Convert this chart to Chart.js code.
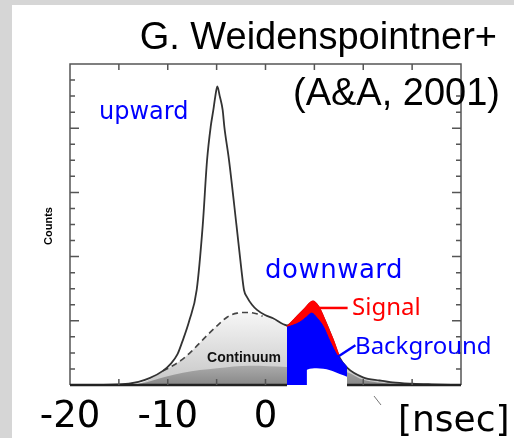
<!DOCTYPE html>
<html>
<head>
<meta charset="utf-8">
<script src="https://cdn.jsdelivr.net/npm/chart.js@4.4.1/dist/chart.umd.min.js"></script>
<style>
  body { margin: 0; background: #d6d6d6; }
  #chart { display: block; }
</style>
</head>
<body>
<canvas id="chart" width="514" height="438"></canvas>
<script>
// time axis in ns, counts in arbitrary units (frame goes 0..5)
const totalX = [-20, -15, -13, -11.8, -10.5, -9.7, -9, -8.5, -7.8, -7.04, -6.42, -5.98, -5.61, -5.34, -5.15, -4.93, -4.68, -4.38, -4.21, -3.73, -2.97, -2.46, -2.2, -1.89, -1.38, -0.87, -0.05, 0.77, 2.2, 3.22, 4.0, 4.86, 5.4, 5.88, 6.9, 7.52, 8.34, 9.97, 11.7, 13, 15, 17, 20];
const totalY = [0, 0.01, 0.05, 0.11, 0.22, 0.33, 0.48, 0.68, 1.0, 1.48, 2.49, 3.5, 4.02, 4.28, 4.48, 4.65, 4.5, 4.28, 4.02, 3.5, 2.49, 1.79, 1.48, 1.37, 1.25, 1.17, 1.09, 1.04, 0.93, 1.06, 1.18, 1.30, 1.22, 1.07, 0.70, 0.44, 0.27, 0.12, 0.07, 0.04, 0.02, 0.01, 0];

const dashX = [-10.5, -9.5, -8.5, -7.6, -6.7, -5.8, -4.9, -3.9, -2.9, -1.9, -0.9, -0.3];
const dashY = [0.22, 0.30, 0.40, 0.52, 0.66, 0.80, 0.93, 1.06, 1.12, 1.13, 1.11, 1.07];

const lightX = [-13, -11.8, -10.5, -9.5, -8.5, -7.6, -6.7, -5.8, -4.9, -3.9, -2.9, -1.9, -0.9, -0.3, 0.77, 2.2, 5, 8.34, 9.97, 11.7, 13, 15, 17];
const lightY = [0.02, 0.09, 0.22, 0.30, 0.40, 0.52, 0.66, 0.80, 0.93, 1.06, 1.12, 1.13, 1.11, 1.07, 1.04, 0.93, 0.6, 0.27, 0.12, 0.07, 0.04, 0.02, 0.005];

const darkX = [-14, -12.5, -11.8, -8.44, -4.96, -1.59, 2.2, 5, 8.34, 10, 12, 15];
const darkY = [0, 0.03, 0.06, 0.19, 0.26, 0.30, 0.28, 0.25, 0.2, 0.08, 0.03, 0];

const signalX = [2.2, 3.22, 4.0, 4.86, 5.4, 5.88, 6.4, 6.9, 7.52];
const signalY = [0.90, 1.06, 1.18, 1.30, 1.22, 1.07, 0.88, 0.70, 0.44];

const bgX = [2.2, 2.8, 3.53, 4.2, 4.72, 5.3, 5.92, 6.6, 7.31, 8.34];
const bgY = [0.90, 0.93, 0.98, 1.06, 1.12, 1.04, 0.91, 0.68, 0.47, 0.28];

// white patch sitting over the bottom of the blue area
const maskX = [4.21, 4.3, 5.23, 6.6, 7.6, 8.34];
const maskY = [0.23, 0.24, 0.26, 0.23, 0.17, 0.13];

const xTickVals = [-15, -10, -5, 0, 5, 10, 15];
const xLabelVals = [-20, -10, 0];
const xLabels = ["-20", "-10", "0"];
const frameGap = [2.2, 8.34];

const pts = (xs, ys) => xs.map((x, i) => ({ x: x, y: ys[i] }));

function lightFill(context) {
    const { ctx, chartArea, scales } = context.chart;
    if (!chartArea) return '#e4e4e4';
    const g = ctx.createLinearGradient(0, scales.y.getPixelForValue(1.13), 0, scales.y.getPixelForValue(0));
    g.addColorStop(0, '#f6f6f6');
    g.addColorStop(1, '#c6c6c6');
    return g;
}

function darkFill(context) {
    const { ctx, chartArea, scales } = context.chart;
    if (!chartArea) return '#9c9c9c';
    const g = ctx.createLinearGradient(0, scales.y.getPixelForValue(0.3), 0, scales.y.getPixelForValue(0));
    g.addColorStop(0, '#aaaaaa');
    g.addColorStop(1, '#888888');
    return g;
}

const decor = {
    id: 'decor',
    beforeDraw(chart) {
        const c = chart.ctx;
        c.save();
        c.fillStyle = '#d6d6d6';
        c.fillRect(0, 0, chart.width, chart.height);
        c.fillStyle = '#ffffff';
        c.fillRect(12, 5, chart.width - 12, chart.height - 5);
        c.restore();
    },
    afterDatasetsDraw(chart) {
        const c = chart.ctx;
        const a = chart.chartArea;
        const xs = chart.scales.x, ys = chart.scales.y;
        c.save();
        // frame
        c.strokeStyle = '#555';
        c.lineWidth = 1.5;
        c.beginPath();
        c.moveTo(a.left, a.bottom);
        c.lineTo(a.left, a.top);
        c.lineTo(a.right, a.top);
        c.lineTo(a.right, a.bottom);
        c.stroke();
        c.strokeStyle = '#222';
        c.lineWidth = 2.5;
        c.beginPath();
        c.moveTo(a.left, a.bottom);
        c.lineTo(xs.getPixelForValue(frameGap[0]), a.bottom);
        c.moveTo(xs.getPixelForValue(frameGap[1]), a.bottom);
        c.lineTo(a.right, a.bottom);
        c.stroke();
        // ticks
        c.strokeStyle = '#555';
        c.lineWidth = 1.5;
        c.beginPath();
        xTickVals.forEach(v => {
            const px = xs.getPixelForValue(v);
            c.moveTo(px, a.top);
            c.lineTo(px, a.top + 6);
            if (v < frameGap[0] || v > frameGap[1]) {
                c.moveTo(px, a.bottom);
                c.lineTo(px, a.bottom - 6);
            }
        });
        for (let v = 0.25; v < 5; v += 0.25) {
            const py = ys.getPixelForValue(v);
            const len = Math.abs(v - Math.round(v)) < 1e-6 ? 9 : 5;
            c.moveTo(a.left, py);
            c.lineTo(a.left + len, py);
            c.moveTo(a.right, py);
            c.lineTo(a.right - len, py);
        }
        c.stroke();

        // leader lines
        c.lineWidth = 2.5;
        c.strokeStyle = '#ff0000';
        c.beginPath();
        c.moveTo(xs.getPixelForValue(5.3), ys.getPixelForValue(1.2));
        c.lineTo(xs.getPixelForValue(8.4), ys.getPixelForValue(1.2));
        c.stroke();
        c.strokeStyle = '#0000ff';
        c.beginPath();
        c.moveTo(xs.getPixelForValue(7.4), ys.getPixelForValue(0.44));
        c.lineTo(xs.getPixelForValue(9.2), ys.getPixelForValue(0.62));
        c.stroke();

        // labels inside the plot
        c.textAlign = 'left';
        c.textBaseline = 'alphabetic';
        c.fillStyle = '#0000ff';
        c.font = '24px "DejaVu Sans"';
        c.fillText('upward', xs.getPixelForValue(-17.03), ys.getPixelForValue(4.15));
        c.letterSpacing = '0.5px';
        c.font = '26px "DejaVu Sans"';
        c.fillText('downward', xs.getPixelForValue(-0.05), ys.getPixelForValue(1.67));
        c.letterSpacing = '0px';
        c.font = '24px "Noto Sans"';
        c.fillStyle = '#ff0000';
        c.fillText('Signal', xs.getPixelForValue(8.85), ys.getPixelForValue(1.09));
        c.fillStyle = '#0000ff';
        c.fillText('Background', xs.getPixelForValue(9.16), ys.getPixelForValue(0.48));
        c.fillStyle = '#111';
        c.font = 'bold 14px "Liberation Sans"';
        c.textAlign = 'center';
        c.textBaseline = 'middle';
        c.fillText('Continuum', xs.getPixelForValue(-2.2), ys.getPixelForValue(0.42));
        c.restore();
    },
    afterDraw(chart) {
        const c = chart.ctx;
        const xs = chart.scales.x;
        c.save();
        c.fillStyle = '#000';
        c.textAlign = 'right';
        c.textBaseline = 'alphabetic';
        c.font = '38px "Liberation Sans"';
        c.fillText('G. Weidenspointner+', 497, 49);
        c.fillText('(A&A, 2001)', 500, 105);

        c.font = '37px "DejaVu Sans"';
        c.textAlign = 'center';
        xLabelVals.forEach((v, i) => {
            c.fillText(xLabels[i], xs.getPixelForValue(v), 427);
        });
        c.font = '36px "DejaVu Sans"';
        c.textAlign = 'left';
        c.fillText('[nsec]', 398, 431);

        c.translate(48.5, 226);
        c.rotate(-Math.PI / 2);
        c.textAlign = 'center';
        c.textBaseline = 'middle';
        c.font = 'bold 11px "Liberation Sans"';
        c.fillText('Counts', 0, 0);
        c.restore();

        // stray stroke under the axis
        c.save();
        c.strokeStyle = '#777';
        c.lineWidth = 1;
        c.beginPath();
        c.moveTo(374, 396);
        c.lineTo(381, 405);
        c.stroke();
        c.restore();
    }
};

const lineBase = { pointRadius: 0, cubicInterpolationMode: 'monotone' };

const config = {
    type: 'line',
    data: {
        datasets: [
            { ...lineBase, label: 'mask', data: pts(maskX, maskY), fill: 'origin', backgroundColor: '#ffffff', borderColor: '#ffffff', borderWidth: 0 },
            { ...lineBase, label: 'Background', data: pts(bgX, bgY), fill: 'origin', backgroundColor: '#0000ff', borderColor: '#0000ff', borderWidth: 1 },
            { ...lineBase, label: 'Signal', data: pts(signalX, signalY), fill: 'origin', backgroundColor: '#ff0000', borderColor: '#ff0000', borderWidth: 2 },
            { ...lineBase, label: 'upward + downward', data: pts(totalX, totalY), fill: false, borderColor: '#333', borderWidth: 1.8 },
            { ...lineBase, label: 'continuum envelope', data: pts(dashX, dashY), fill: false, borderColor: '#444', borderWidth: 1.6, borderDash: [6, 4] },
            { ...lineBase, label: 'continuum low', data: pts(darkX, darkY), fill: 'origin', backgroundColor: darkFill, borderWidth: 0 },
            { ...lineBase, label: 'continuum', data: pts(lightX, lightY), fill: 'origin', backgroundColor: lightFill, borderWidth: 0 }
        ]
    },
    options: {
        responsive: false,
        animation: false,
        devicePixelRatio: 1,
        layout: { padding: { left: 70, top: 64, right: 53, bottom: 53 } },
        plugins: {
            legend: { display: false },
            tooltip: { enabled: false }
        },
        scales: {
            x: { type: 'linear', min: -20, max: 20, display: false },
            y: { min: 0, max: 5, display: false }
        }
    },
    plugins: [decor]
};

new Chart(document.querySelector('#chart'), config);
</script>
</body>
</html>
